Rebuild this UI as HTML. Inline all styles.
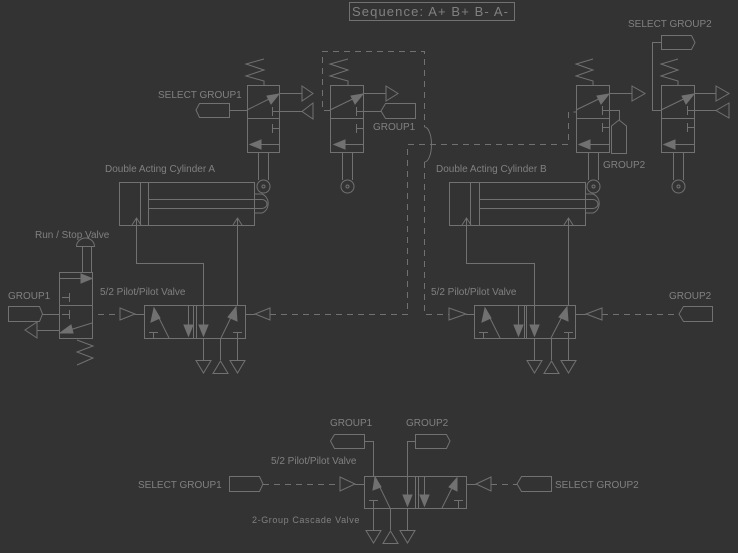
<!DOCTYPE html>
<html><head><meta charset="utf-8"><style>
html,body{margin:0;padding:0;background:#333333;}
svg{display:block}
text{font-family:"Liberation Sans",sans-serif;fill:#808080;font-size:10px}
</style></head><body>
<svg width="738" height="553" viewBox="0 0 738 553" xmlns="http://www.w3.org/2000/svg">
<g stroke="#717171" stroke-width="1" fill="none">
<!-- sequence box -->
<rect x="349.5" y="2.5" width="165" height="18"/>

<!-- ===== Valve A (5/2) ===== -->
<rect x="144.5" y="305.5" width="101" height="33"/>
<line x1="193.5" y1="305" x2="193.5" y2="338"/><line x1="196.5" y1="305" x2="196.5" y2="338"/>
<line x1="169" y1="338" x2="154" y2="308"/><path d="M154,308 L151,322 L160,318Z" fill="#717171"/>
<line x1="153.5" y1="332" x2="153.5" y2="338"/><line x1="149" y1="332.5" x2="158" y2="332.5"/>
<line x1="188.5" y1="305" x2="188.5" y2="336"/><path d="M188.5,336 L184,325 L193,325Z" fill="#717171"/>
<line x1="203.5" y1="263" x2="203.5" y2="336"/><path d="M203.5,336 L199,325 L208,325Z" fill="#717171"/>
<line x1="221" y1="338" x2="236" y2="307"/><path d="M236,307 L228,317 L237,321Z" fill="#717171"/>
<line x1="237.5" y1="332" x2="237.5" y2="338"/><line x1="233" y1="332.5" x2="242" y2="332.5"/>
<line x1="203.5" y1="338" x2="203.5" y2="360"/><path d="M196,360.5 L211,360.5 L203.5,373Z"/>
<line x1="220.5" y1="338" x2="220.5" y2="360"/><path d="M213,373.5 L228,373.5 L220.5,361Z"/>
<line x1="237.5" y1="338" x2="237.5" y2="360"/><path d="M230,360.5 L245,360.5 L237.5,373Z"/>
<path d="M120,308 L135,314 L120,320Z"/><line x1="135" y1="314.5" x2="144" y2="314.5"/>
<path d="M270,308 L255,314 L270,320Z"/><line x1="246" y1="314.5" x2="255" y2="314.5"/>
<!-- cylinder A -->
<rect x="119.5" y="182.5" width="135" height="43"/>
<line x1="140.5" y1="182" x2="140.5" y2="225"/><line x1="148.5" y1="182" x2="148.5" y2="225"/>
<path d="M148,199.5 L262,199.5 A5,4.5 0 0 1 262,208.5 L148,208.5"/>
<path d="M255,194 L262,194 A9,10 0 0 1 262,213 L255,213"/>
<path d="M136.5,225 L136.5,218 M132,225 L136.5,218 L141,225"/>
<path d="M237.5,225 L237.5,218 M233,225 L237.5,218 L242,225"/>
<polyline points="136.5,225 136.5,263.5 203.5,263.5"/>
<line x1="237.5" y1="225" x2="237.5" y2="305"/>

<!-- Run/Stop valve -->
<rect x="59.5" y="272.5" width="33" height="33"/><rect x="59.5" y="305.5" width="33" height="33"/>
<line x1="82.5" y1="272" x2="82.5" y2="247"/><line x1="91.5" y1="272" x2="91.5" y2="247"/>
<path d="M76.5,246.5 L94.5,246.5 A9,8.5 0 0 0 76.5,246.5Z"/>
<line x1="59" y1="278.5" x2="92" y2="278.5"/><path d="M92,278.5 L81,274 L81,283Z" fill="#717171"/>
<line x1="62" y1="297.5" x2="70" y2="297.5"/><line x1="69.5" y1="293" x2="69.5" y2="302"/>
<line x1="62" y1="314.5" x2="70" y2="314.5"/><line x1="69.5" y1="310" x2="69.5" y2="319"/>
<line x1="92" y1="323" x2="60" y2="333"/><path d="M60,333 L71,325 L73,333Z" fill="#717171"/>
<path d="M8.5,306.5 L39.5,306.5 L42.5,314 L39.5,321.5 L8.5,321.5Z"/>
<line x1="42" y1="314.5" x2="59" y2="314.5"/>
<path d="M37,322 L25,330 L37,338Z"/><line x1="37" y1="330.5" x2="59" y2="330.5"/>
<polyline points="77,340 93,346 77,352 93,358 77,365"/>

<!-- Top limit valve 1 -->
<rect x="247.5" y="85.5" width="32" height="33"/><rect x="247.5" y="118.5" width="32" height="34"/>
<polyline points="264,59 246,64 264,70 246,76 264,81 264,85"/>
<line x1="247" y1="110" x2="279" y2="94"/><path d="M279,94 L267,96 L271,104Z" fill="#717171"/>
<line x1="279" y1="93.5" x2="302" y2="93.5"/><path d="M302,86 L313,93.5 L302,101Z"/>
<line x1="272" y1="111.5" x2="302" y2="111.5"/><line x1="272.5" y1="107" x2="272.5" y2="116"/><path d="M313,103 L302,111.5 L313,119Z"/>
<line x1="272" y1="128.5" x2="279" y2="128.5"/><line x1="272.5" y1="124" x2="272.5" y2="133"/>
<line x1="279" y1="144.5" x2="250" y2="144.5"/><path d="M250,144.5 L261,140 L261,149Z" fill="#717171"/>
<path d="M229.5,103.5 L199.5,103.5 L196,110 L199.5,117.5 L229.5,117.5Z"/><line x1="229" y1="110.5" x2="247" y2="110.5"/>
<line x1="258.5" y1="152" x2="258.5" y2="180"/><line x1="268.5" y1="152" x2="268.5" y2="180"/>
<circle cx="263.5" cy="186.5" r="6.5"/><circle cx="263.5" cy="186.5" r="1.5"/>

<!-- Top limit valve 2 -->
<rect x="330.5" y="85.5" width="33" height="33"/><rect x="330.5" y="118.5" width="33" height="34"/>
<polyline points="348,59 330,64 348,70 330,76 348,81 348,85"/>
<line x1="330" y1="110" x2="363" y2="94"/><path d="M363,94 L351,96 L355,104Z" fill="#717171"/>
<line x1="363" y1="93.5" x2="386" y2="93.5"/><path d="M386,86 L398,93.5 L386,101Z"/>
<line x1="356" y1="111.5" x2="381" y2="111.5"/><line x1="356.5" y1="107" x2="356.5" y2="116"/>
<path d="M415.5,103.5 L385.5,103.5 L381,111 L385.5,118.5 L415.5,118.5Z"/>
<line x1="356" y1="128.5" x2="363" y2="128.5"/><line x1="356.5" y1="124" x2="356.5" y2="133"/>
<line x1="363" y1="144.5" x2="334" y2="144.5"/><path d="M334,144.5 L345,140 L345,149Z" fill="#717171"/>
<line x1="342.5" y1="152" x2="342.5" y2="180"/><line x1="352.5" y1="152" x2="352.5" y2="180"/>
<circle cx="347.5" cy="186.5" r="6.5"/><circle cx="347.5" cy="186.5" r="1.5"/>

<!-- dashed lines -->
<g stroke-dasharray="6,5">
<polyline points="330,110.5 322.5,110.5 322.5,51.5 424.5,51.5 424.5,127"/>
<polyline points="424.5,162 424.5,314.5 449,314.5"/>
<polyline points="270,314.5 407.5,314.5 407.5,144.5 568.5,144.5 568.5,112 576,112"/>
<line x1="602" y1="314.5" x2="679" y2="314.5"/>
<line x1="115" y1="314.5" x2="92" y2="314.5"/>
<line x1="263" y1="484.5" x2="340" y2="484.5"/>
<line x1="491" y1="484.5" x2="517" y2="484.5"/>
</g>
<path d="M424.5,127 A7,17.5 0 0 1 424.5,162"/>

<!-- Top valve B1 -->
<rect x="576.5" y="85.5" width="33" height="33"/><rect x="576.5" y="118.5" width="33" height="34"/>
<polyline points="593,59 576,64 593,70 576,76 593,81 593,85"/>
<line x1="576" y1="110" x2="609" y2="94"/><path d="M609,94 L597,96 L601,104Z" fill="#717171"/>
<line x1="609" y1="93.5" x2="632" y2="93.5"/><path d="M632,86 L645,93.5 L632,101Z"/>
<polyline points="602,110.5 619.5,110.5 619.5,120"/><line x1="602.5" y1="106" x2="602.5" y2="115"/>
<path d="M611.5,153.5 L611.5,126 L619,120 L626.5,126 L626.5,153.5Z"/>
<line x1="602" y1="127.5" x2="609" y2="127.5"/><line x1="602.5" y1="123" x2="602.5" y2="132"/>
<line x1="609" y1="144.5" x2="579" y2="144.5"/><path d="M579,144.5 L590,140 L590,149Z" fill="#717171"/>
<line x1="588.5" y1="152" x2="588.5" y2="180"/><line x1="598.5" y1="152" x2="598.5" y2="180"/>
<circle cx="593.5" cy="186.5" r="6.5"/><circle cx="593.5" cy="186.5" r="1.5"/>

<!-- Top valve B2 -->
<rect x="661.5" y="85.5" width="33" height="33"/><rect x="661.5" y="118.5" width="33" height="34"/>
<polyline points="678,59 661,64 678,70 661,76 678,81 678,85"/>
<line x1="661" y1="110" x2="694" y2="94"/><path d="M694,94 L682,96 L686,104Z" fill="#717171"/>
<line x1="694" y1="93.5" x2="716" y2="93.5"/><path d="M716,86 L729,93.5 L716,101Z"/>
<line x1="687" y1="110.5" x2="716" y2="110.5"/><line x1="687.5" y1="106" x2="687.5" y2="115"/><path d="M729,103 L716,110.5 L729,118Z"/>
<line x1="687" y1="127.5" x2="694" y2="127.5"/><line x1="687.5" y1="123" x2="687.5" y2="132"/>
<line x1="694" y1="144.5" x2="664" y2="144.5"/><path d="M664,144.5 L675,140 L675,149Z" fill="#717171"/>
<path d="M661.5,35.5 L691.5,35.5 L695,42.5 L691.5,49.5 L661.5,49.5Z"/>
<polyline points="661,42.5 652.5,42.5 652.5,110.5 661,110.5"/>
<line x1="673.5" y1="152" x2="673.5" y2="180"/><line x1="683.5" y1="152" x2="683.5" y2="180"/>
<circle cx="678.5" cy="186.5" r="6.5"/><circle cx="678.5" cy="186.5" r="1.5"/>

<!-- cylinder B -->
<rect x="449.5" y="182.5" width="136" height="43"/>
<line x1="470.5" y1="182" x2="470.5" y2="225"/><line x1="479.5" y1="182" x2="479.5" y2="225"/>
<path d="M479,199.5 L593,199.5 A5,4.5 0 0 1 593,208.5 L479,208.5"/>
<path d="M586,194 L593,194 A9,10 0 0 1 593,213 L586,213"/>
<path d="M466.5,225 L466.5,218 M462,225 L466.5,218 L471,225"/>
<path d="M568.5,225 L568.5,218 M564,225 L568.5,218 L573,225"/>
<polyline points="466.5,225 466.5,263.5 534.5,263.5"/>
<line x1="568.5" y1="225" x2="568.5" y2="305"/>

<!-- Valve B (5/2) -->
<rect x="474.5" y="305.5" width="101" height="33"/>
<line x1="524.5" y1="305" x2="524.5" y2="338"/><line x1="526.5" y1="305" x2="526.5" y2="338"/>
<line x1="500" y1="338" x2="485" y2="308"/><path d="M485,308 L482,322 L491,318Z" fill="#717171"/>
<line x1="483.5" y1="332" x2="483.5" y2="338"/><line x1="479" y1="332.5" x2="488" y2="332.5"/>
<line x1="518.5" y1="305" x2="518.5" y2="336"/><path d="M518.5,336 L514,325 L523,325Z" fill="#717171"/>
<line x1="534.5" y1="263" x2="534.5" y2="336"/><path d="M534.5,336 L530,325 L539,325Z" fill="#717171"/>
<line x1="551" y1="338" x2="567" y2="307"/><path d="M567,307 L559,317 L568,321Z" fill="#717171"/>
<line x1="568.5" y1="332" x2="568.5" y2="338"/><line x1="564" y1="332.5" x2="573" y2="332.5"/>
<line x1="534.5" y1="338" x2="534.5" y2="360"/><path d="M527,360.5 L542,360.5 L534.5,373Z"/>
<line x1="551.5" y1="338" x2="551.5" y2="360"/><path d="M544,373.5 L559,373.5 L551.5,361Z"/>
<line x1="568.5" y1="338" x2="568.5" y2="360"/><path d="M561,360.5 L576,360.5 L568.5,373Z"/>
<path d="M449,308 L466,314 L449,320Z"/><line x1="466" y1="314.5" x2="474" y2="314.5"/>
<path d="M602,308 L586,314 L602,320Z"/><line x1="576" y1="314.5" x2="586" y2="314.5"/>
<path d="M712.5,306.5 L683.5,306.5 L679,314 L683.5,321.5 L712.5,321.5Z"/>

<!-- Cascade valve -->
<rect x="364.5" y="476.5" width="102" height="32"/>
<line x1="415.5" y1="476" x2="415.5" y2="508"/><line x1="418.5" y1="476" x2="418.5" y2="508"/>
<line x1="390" y1="508" x2="375" y2="477"/><path d="M375,477 L373,490 L381,487Z" fill="#717171"/>
<polyline points="365,441.5 373.5,441.5 373.5,476"/>
<line x1="373.5" y1="500" x2="373.5" y2="530"/><line x1="369" y1="500.5" x2="378" y2="500.5"/>
<polyline points="415,441.5 407.5,441.5 407.5,506"/><path d="M407.5,506 L403,495 L412,495Z" fill="#717171"/>
<line x1="424.5" y1="476" x2="424.5" y2="506"/><path d="M424.5,506 L420,495 L429,495Z" fill="#717171"/>
<line x1="442" y1="508" x2="457" y2="478"/><path d="M457,478 L449,487 L457,491Z" fill="#717171"/>
<line x1="458.5" y1="500" x2="458.5" y2="508"/><line x1="454" y1="500.5" x2="463" y2="500.5"/>
<line x1="390.5" y1="508" x2="390.5" y2="530"/>
<path d="M366,530.5 L381,530.5 L373.5,543Z"/><path d="M383,543.5 L398,543.5 L390.5,531Z"/><path d="M400,530.5 L415,530.5 L407.5,543Z"/>
<line x1="407.5" y1="508" x2="407.5" y2="530"/>
<path d="M364.5,434.5 L334.5,434.5 L330.5,441 L334.5,448.5 L364.5,448.5Z"/>
<path d="M415.5,434.5 L446.5,434.5 L450,441 L446.5,448.5 L415.5,448.5Z"/>
<path d="M229.5,476.5 L259.5,476.5 L263,484 L259.5,491.5 L229.5,491.5Z"/>
<path d="M340,477 L355,484 L340,491Z"/><line x1="355" y1="484.5" x2="364" y2="484.5"/>
<path d="M491,477 L476,484 L491,491Z"/><line x1="466" y1="484.5" x2="476" y2="484.5"/>
<path d="M551.5,476.5 L521.5,476.5 L517,484 L521.5,491.5 L551.5,491.5Z"/>
</g>

<!-- text -->
<text x="352" y="16" style="font-size:13px" textLength="156" lengthAdjust="spacing">Sequence:  A+ B+ B- A-</text>
<text x="158" y="98">SELECT GROUP1</text>
<text x="373" y="130">GROUP1</text>
<text x="628" y="27">SELECT GROUP2</text>
<text x="603" y="168">GROUP2</text>
<text x="105" y="172">Double Acting Cylinder A</text>
<text x="436" y="172">Double Acting Cylinder B</text>
<text x="35" y="238">Run / Stop Valve</text>
<text x="8" y="299">GROUP1</text>
<text x="100" y="295">5/2 Pilot/Pilot Valve</text>
<text x="431" y="295">5/2 Pilot/Pilot Valve</text>
<text x="669" y="299">GROUP2</text>
<text x="330" y="426">GROUP1</text>
<text x="406" y="426">GROUP2</text>
<text x="271" y="464">5/2 Pilot/Pilot Valve</text>
<text x="138" y="488">SELECT GROUP1</text>
<text x="555" y="488">SELECT GROUP2</text>
<text x="252" y="523" style="font-size:9px;letter-spacing:0.6px">2-Group Cascade Valve</text>
</svg>
</body></html>
